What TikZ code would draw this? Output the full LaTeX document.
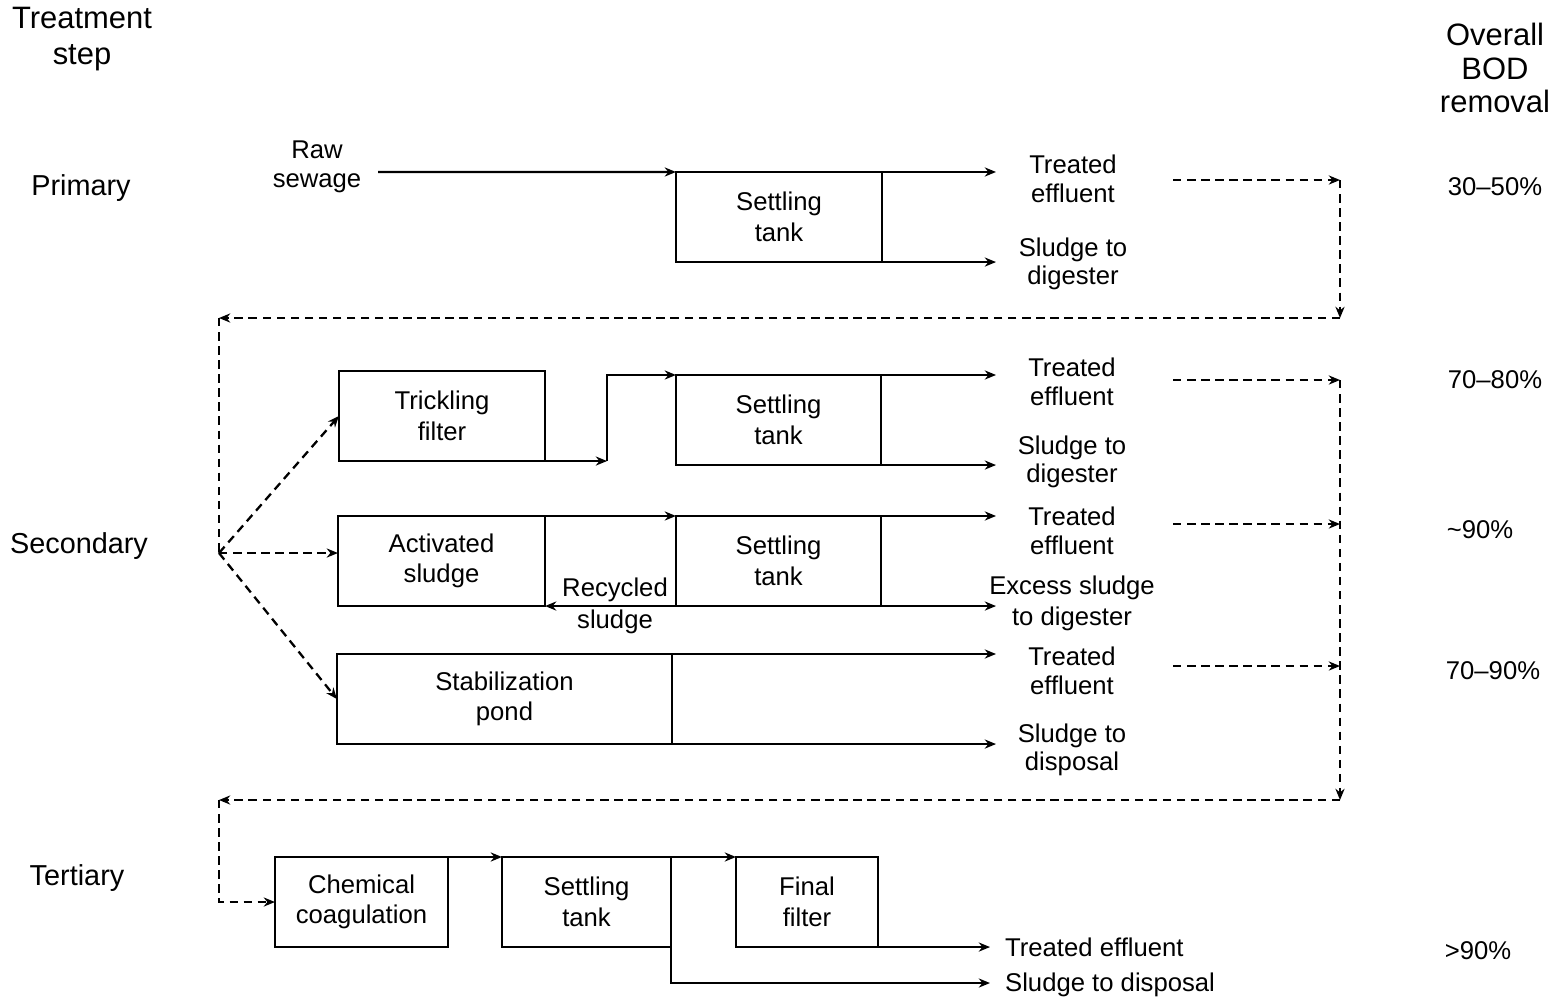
\documentclass[tikz,border=0pt]{standalone}
\usepackage{fontspec}
\setmainfont{Liberation Sans}
\usetikzlibrary{arrows.meta}

\begin{document}
\begin{tikzpicture}[x=0.01cm, y=-0.01cm, >={Stealth[length=3.2pt,width=2.6pt]}, line width=0.65pt,
    stage/.style={draw, inner sep=0pt, outer sep=0pt, minimum height=0.9cm, align=center, font=\fontsize{7.3}{8.7}\selectfont},
    lbl/.style={align=center, inner sep=0pt, font=\fontsize{7.3}{8.1}\selectfont},
    rowlbl/.style={inner sep=0pt, font=\fontsize{8.2}{9.5}\selectfont},
    hdr/.style={align=center, inner sep=0pt, font=\fontsize{8.8}{9.6}\selectfont},
    flow/.style={->},
    dsh/.style={dash pattern=on 2.4pt off 1.6pt},
    ret/.style={dsh, ->}]
    \useasboundingbox (0,0) rectangle (1564,999);

    \node[hdr, font=\fontsize{8.8}{10}\selectfont] (hstep) at (82,39) {Treatment\\step};
    \node[hdr] (hbod) at (1495,68) {Overall\\BOD\\removal};
    \node[rowlbl] (rprim) at (81,188) {Primary};
    \node[rowlbl] (rsec) at (79,546) {Secondary};
    \node[rowlbl] (rter) at (77,878) {Tertiary};

    \node[stage, minimum width=2.06cm] (pset) at (779,217) {Settling\\tank};
    \node[stage, minimum width=2.06cm] (tf) at (442,416) {Trickling\\filter};
    \node[stage, minimum width=2.05cm] (sst1) at (778.5,420) {Settling\\tank};
    \node[stage, minimum width=2.07cm] (as) at (441.5,561) {Activated\\sludge};
    \node[stage, minimum width=2.05cm] (sst2) at (778.5,561) {Settling\\tank};
    \node[stage, minimum width=3.35cm] (pond) at (504.5,699) {Stabilization\\pond};
    \node[stage, minimum width=1.73cm] (cc) at (361.5,902) {Chemical\\coagulation};
    \node[stage, minimum width=1.69cm] (tst) at (586.5,902) {Settling\\tank};
    \node[stage, minimum width=1.42cm] (ff) at (807,902) {Final\\filter};

    \node[lbl] (praw) at (317,167) {Raw\\sewage};
    \node[lbl] (pte) at (1073,179) {Treated\\effluent};
    \node[lbl] (psd) at (1073,264) {Sludge to\\digester};
    \node[lbl] (tte) at (1072,382) {Treated\\effluent};
    \node[lbl] (tsd) at (1072,462) {Sludge to\\digester};
    \node[lbl] (ate) at (1072,531) {Treated\\effluent};
    \node[lbl, font=\fontsize{7.3}{8.8}\selectfont] (asd) at (1072,603) {Excess sludge\\to digester};
    \node[lbl] (ste) at (1072,671) {Treated\\effluent};
    \node[lbl] (ssd) at (1072,750) {Sludge to\\disposal};
    \node[lbl, font=\fontsize{7.3}{9.2}\selectfont] (rsl) at (615,606) {Recycled\\sludge};
    \node[lbl, anchor=west] (xte) at (1004,947) {Treated effluent};
    \node[lbl, anchor=west] (xsd) at (1004,985) {Sludge to disposal};

    \node[lbl] (bp) at (1495,187) {30--50\%};
    \node[lbl] (bt) at (1495,380) {70--80\%};
    \node[lbl] (ba) at (1480,530) {\textasciitilde90\%};
    \node[lbl] (bs) at (1493,671) {70--90\%};
    \node[lbl] (bx) at (1478,951) {>90\%};

    \coordinate (outx) at (996,0);
    \coordinate (tout) at (990,0);
    \coordinate (tlow) at (0,983);
    \coordinate (tfx) at (607,0);
    \coordinate (rx) at (1340,0);
    \coordinate (rawin) at (378,172);
    \coordinate (fan) at (219,553);
    \coordinate (pturn) at (1340,318);
    \coordinate (pleft) at (219,318);
    \coordinate (sturn) at (1340,800);
    \coordinate (sleft) at (219,800);
    \coordinate (pd) at (1173,180);
    \coordinate (td) at (1173,380);
    \coordinate (ad) at (1173,524);
    \coordinate (sd) at (1173,666);

    % primary
    \draw[flow] (rawin) -- (pset.north west);
    \draw[flow] (pset.north east) -- (pset.north east -| outx);
    \draw[flow] (pset.south east) -- (pset.south east -| outx);

    % secondary
    \draw[flow] (tf.south east) -- (tf.south east -| tfx);
    \draw[flow] (tf.south east -| tfx) -- (sst1.north west -| tfx) -- (sst1.north west);
    \draw[flow] (sst1.north east) -- (sst1.north east -| outx);
    \draw[flow] (sst1.south east) -- (sst1.south east -| outx);
    \draw[flow] (as.north east) -- (sst2.north west);
    \draw[flow] (sst2.south west) -- (as.south east);
    \draw[flow] (sst2.north east) -- (sst2.north east -| outx);
    \draw[flow] (sst2.south east) -- (sst2.south east -| outx);
    \draw[flow] (pond.north east) -- (pond.north east -| outx);
    \draw[flow] (pond.south east) -- (pond.south east -| outx);

    % tertiary
    \draw[flow] (cc.north east) -- (tst.north west);
    \draw[flow] (tst.north east) -- (ff.north west);
    \draw[flow] (ff.south east) -- (ff.south east -| tout);
    \draw[flow] (tst.south east) -- (tst.south east |- tlow) -- (tlow -| tout);

    % returns
    \draw[ret] (pd) -- (pd -| rx);
    \draw[ret] (pd -| rx) -- (pturn);
    \draw[ret] (pturn) -- (pleft);
    \draw[dsh] (pleft) -- (fan);
    \draw[ret] (fan) -- (tf.west);
    \draw[ret] (fan) -- (fan -| as.west);
    \draw[ret] (fan) -- (pond.west);
    \draw[ret] (td) -- (td -| rx);
    \draw[ret] (ad) -- (ad -| rx);
    \draw[ret] (sd) -- (sd -| rx);
    \draw[ret] (td -| rx) -- (sturn);
    \draw[ret] (sturn) -- (sleft);
    \draw[ret] (sleft) -- (sleft |- cc.west) -- (cc.west);
\end{tikzpicture}
\end{document}
